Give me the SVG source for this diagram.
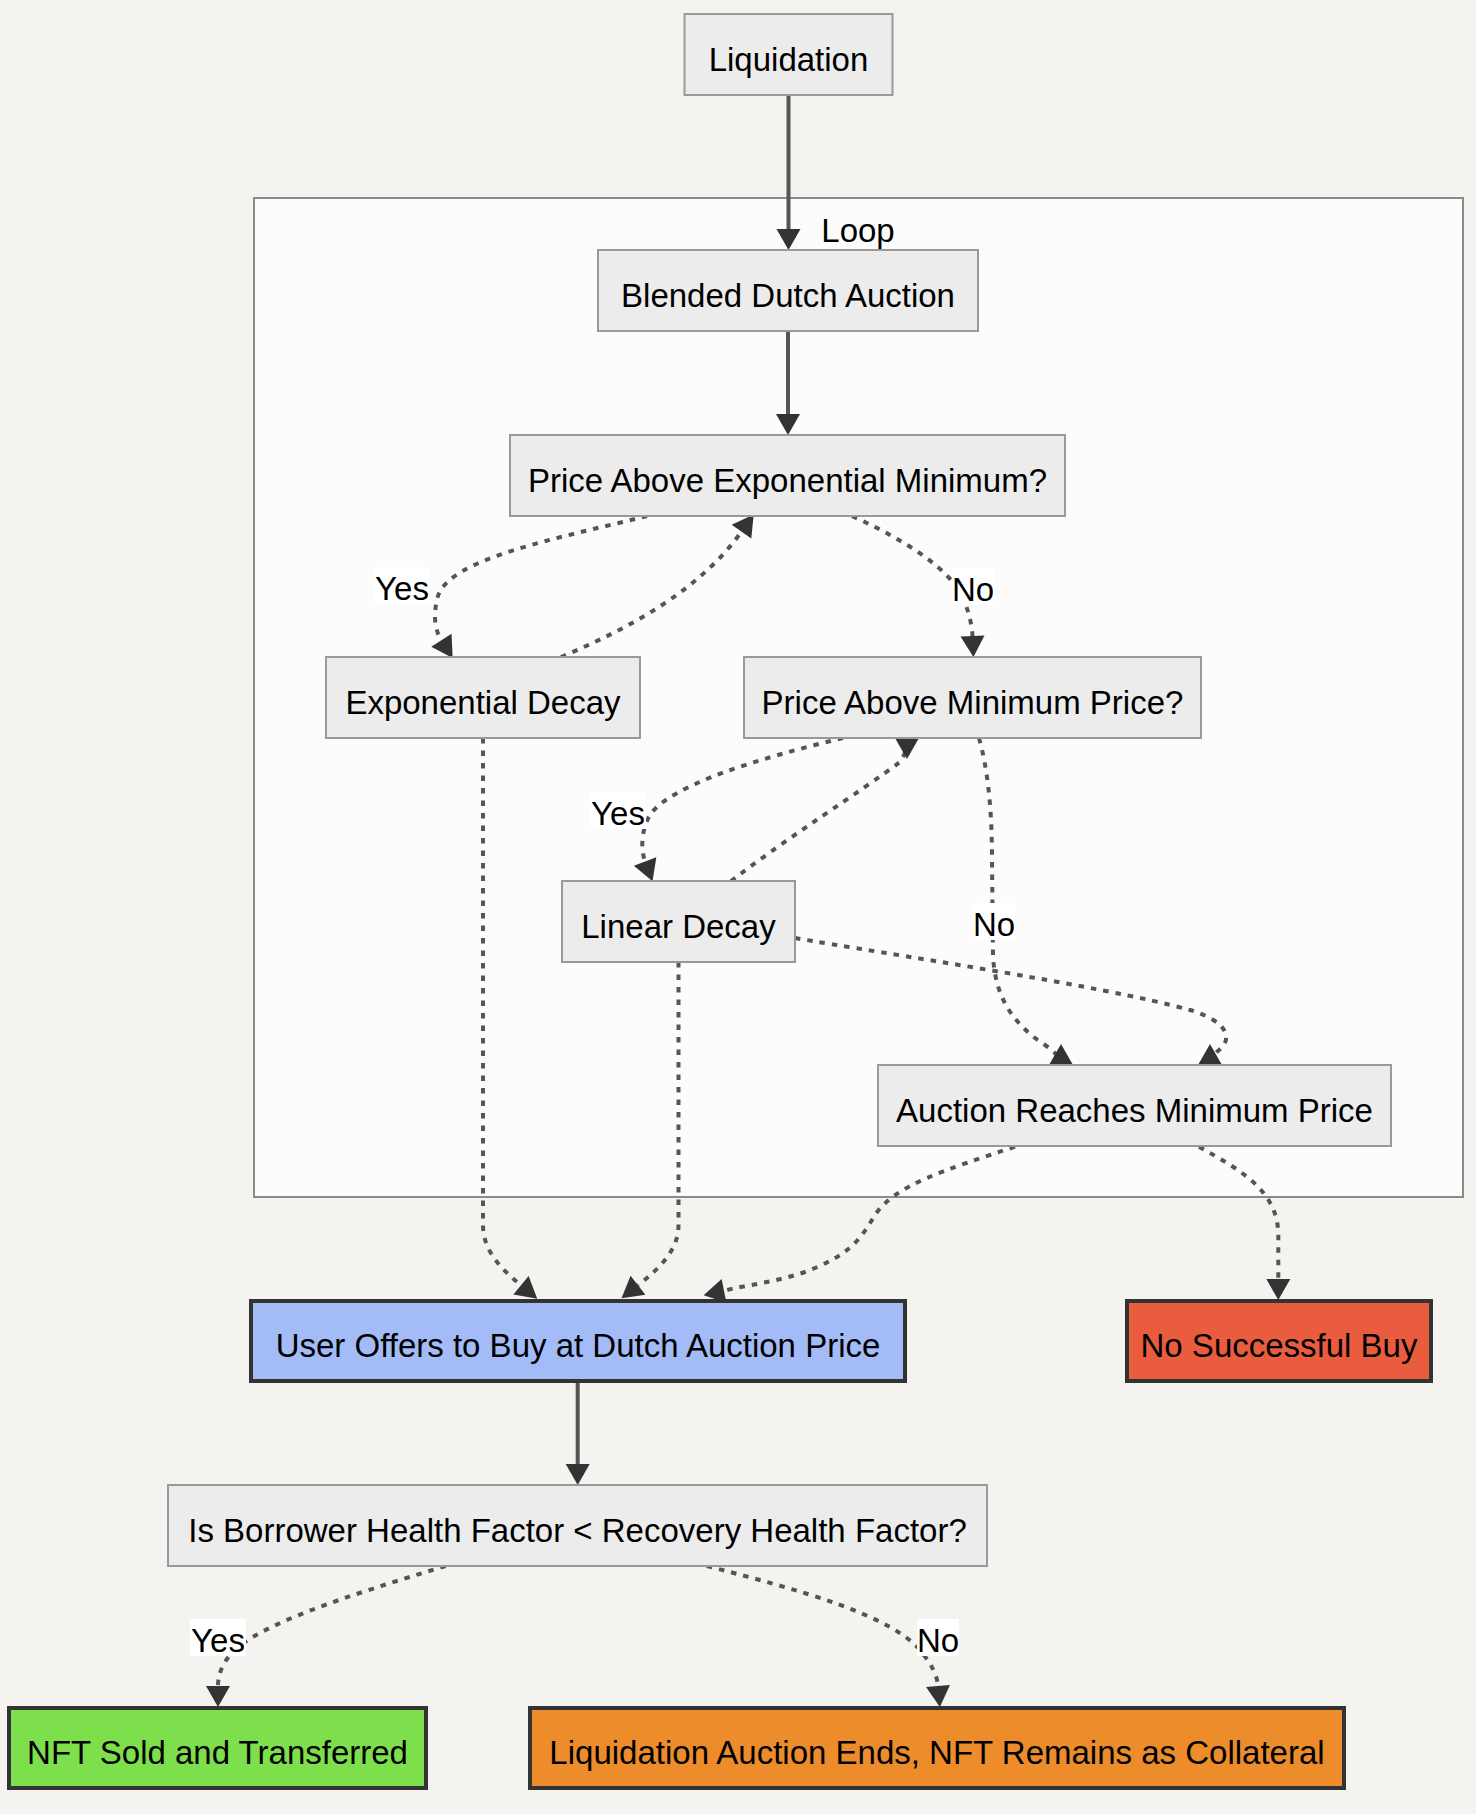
<svg xmlns="http://www.w3.org/2000/svg" width="1476" height="1814" viewBox="0 0 1476 1814">
<style>
  text { font-family: "Liberation Sans", Arial, sans-serif; font-size: 33px; fill: #000; text-anchor: middle; }
  .node rect { fill: #ececec; stroke: #999; stroke-width: 2; }
  .node.hl rect { stroke: #333; stroke-width: 4; }
  .edge { fill: none; stroke: #555; stroke-width: 4; }
  .dot { stroke-dasharray: 5.5 7; }
  .lbl rect { fill: #fff; stroke: none; }
</style>
<defs>
  <marker id="ah" markerUnits="userSpaceOnUse" markerWidth="22" markerHeight="24" refX="0" refY="12" orient="auto" overflow="visible">
    <path d="M0,0 L21,12 L0,24 z" fill="#333"/>
  </marker>
  <marker id="ahr" markerUnits="userSpaceOnUse" markerWidth="22" markerHeight="24" refX="21" refY="12" orient="auto" overflow="visible">
    <path d="M21,0 L0,12 L21,24 z" fill="#333"/>
  </marker>
</defs>
<rect x="0" y="0" width="1476" height="1814" fill="#f4f3ef"/>

<g id="cluster-loop">
  <rect x="254" y="198" width="1209" height="999" fill="#fcfcfc" stroke="#8a8a8a" stroke-width="2"/>
  <text x="858" y="242">Loop</text>
</g>

<g id="connectors">
  <path id="e1" class="edge" d="M788.5,95 V229" marker-end="url(#ah)"/>
  <path id="e2" class="edge" d="M788,331 V414" marker-end="url(#ah)"/>
  <path id="e3" class="edge dot" d="M647,516 C560,538 450,558 438,596 C434,610 433,627 441.4,640.2" marker-end="url(#ah)"/>
  <path id="e4" class="edge dot" d="M561,657 C630,628 700,590 741.5,531.6" marker-end="url(#ah)"/>
  <path id="e5" class="edge dot" d="M852,516 C905,540 952,570 964,600 C969,613 972,625 972.5,636" marker-end="url(#ah)"/>
  <path id="e6" class="edge dot" d="M843,738 C760,758 670,785 650,815 C642,828 640,848 645.1,861.5" marker-end="url(#ah)"/>
  <path id="e7" class="edge dot" d="M731,881 C790,836 860,792 900,762 C905,755 907,748 907,738" marker-end="url(#ahr)"/>
  <path id="e8" class="edge dot" d="M979,738 C988,770 992,810 992,860 L993,955 C995,1000 1015,1025 1045,1045 C1055,1052 1061,1058 1061,1065" marker-end="url(#ahr)"/>
  <path id="e9" class="edge dot" d="M795,938 C880,953 1100,985 1190,1010 C1230,1022 1232,1040 1219,1050 C1213,1055 1210,1060 1210,1065" marker-end="url(#ahr)"/>
  <path id="e10" class="edge dot" d="M483,738 V1225 C483,1250 500,1268 521,1285.3" marker-end="url(#ah)"/>
  <path id="e11" class="edge dot" d="M678.5,962 V1225 C678.5,1250 660,1268 638,1285.3" marker-end="url(#ah)"/>
  <path id="e12" class="edge dot" d="M1015,1146.7 C945,1170 895,1185 875,1215 C860,1240 850,1255 805,1272 C770,1284 730,1287 722,1292 C718,1294 716,1296 715,1299" marker-end="url(#ahr)"/>
  <path id="e13" class="edge dot" d="M1199,1146.7 C1240,1170 1278,1190 1278.3,1235 V1279" marker-end="url(#ah)"/>
  <path id="e14" class="edge" d="M577.7,1383 V1464" marker-end="url(#ah)"/>
  <path id="e15" class="edge dot" d="M445.6,1566 C350,1595 255,1625 230,1655 C222,1665 218,1675 218,1686" marker-end="url(#ah)"/>
  <path id="e16" class="edge dot" d="M706.8,1566 C800,1590 890,1615 920,1650 C932,1665 937,1675 938,1686" marker-end="url(#ah)"/>
</g>

<g id="edge-labels">
  <g class="lbl"><rect x="374" y="567" width="56" height="37"/><text x="402" y="600">Yes</text></g>
  <g class="lbl"><rect x="952" y="568" width="42" height="37"/><text x="973" y="601">No</text></g>
  <g class="lbl"><rect x="590" y="792" width="56" height="37"/><text x="618" y="825">Yes</text></g>
  <g class="lbl"><rect x="973" y="903" width="42" height="37"/><text x="994" y="936">No</text></g>
  <g class="lbl"><rect x="190" y="1619" width="56" height="37"/><text x="218" y="1652">Yes</text></g>
  <g class="lbl"><rect x="917" y="1619" width="42" height="37"/><text x="938" y="1652">No</text></g>
</g>

<g id="n-liquidation" class="node"><rect x="684.5" y="14" width="208" height="81"/><text x="788.5" y="71">Liquidation</text></g>
<g id="n-blended" class="node"><rect x="598" y="250" width="380" height="81"/><text x="788" y="307">Blended Dutch Auction</text></g>
<g id="n-price-exp" class="node"><rect x="510" y="435" width="555" height="81"/><text x="787.5" y="492">Price Above Exponential Minimum?</text></g>
<g id="n-exp-decay" class="node"><rect x="326" y="657" width="314" height="81"/><text x="483" y="714">Exponential Decay</text></g>
<g id="n-price-min" class="node"><rect x="744" y="657" width="457" height="81"/><text x="972.5" y="714">Price Above Minimum Price?</text></g>
<g id="n-linear" class="node"><rect x="562" y="881" width="233" height="81"/><text x="678.5" y="938">Linear Decay</text></g>
<g id="n-auction-min" class="node"><rect x="878" y="1065" width="513" height="81"/><text x="1134.5" y="1122">Auction Reaches Minimum Price</text></g>
<g id="n-user-offers" class="node hl"><rect x="251" y="1301" width="654" height="80" style="fill:#a3bcf7"/><text x="578" y="1357">User Offers to Buy at Dutch Auction Price</text></g>
<g id="n-no-buy" class="node hl"><rect x="1127" y="1301" width="304" height="80" style="fill:#e95c3e"/><text x="1279" y="1357">No Successful Buy</text></g>
<g id="n-health" class="node"><rect x="168" y="1485" width="819" height="81"/><text x="577.5" y="1542">Is Borrower Health Factor &lt; Recovery Health Factor?</text></g>
<g id="n-nft-sold" class="node hl"><rect x="9" y="1708" width="417" height="80" style="fill:#7edf4d"/><text x="217.5" y="1764">NFT Sold and Transferred</text></g>
<g id="n-auction-ends" class="node hl"><rect x="530" y="1708" width="814" height="80" style="fill:#ec8c2b"/><text x="937" y="1764">Liquidation Auction Ends, NFT Remains as Collateral</text></g>
</svg>
